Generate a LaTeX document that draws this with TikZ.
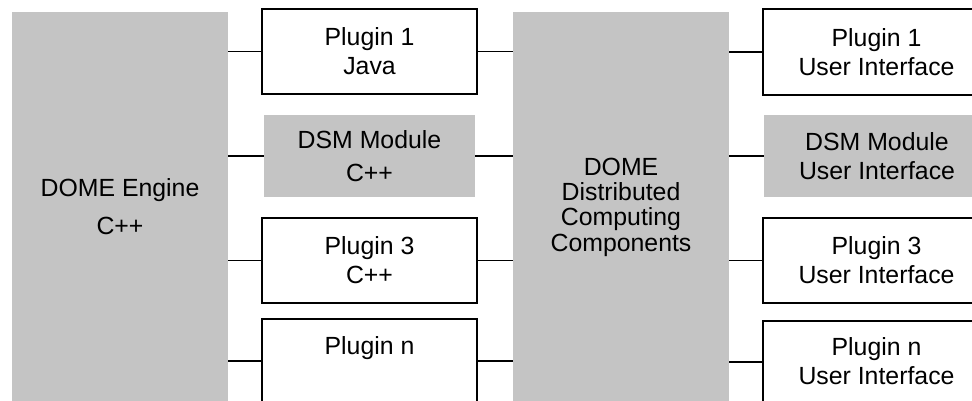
\documentclass[tikz,border=0pt]{standalone}
\usepackage{fontspec}
\setmainfont{Liberation Sans}
\definecolor{panelgray}{RGB}{196,196,196}
\tikzset{
  corebox/.style={fill=panelgray, minimum width=3.24cm, minimum height=5.85cm, align=center, inner sep=0pt},
  plugbox/.style={draw, line width=0.75pt, fill=white, minimum height=1.275cm, align=center, inner sep=0pt},
  modbox/.style={fill=panelgray, minimum height=1.23cm, align=center, inner sep=0pt},
  link/.style={line width=0.85pt}
}
\begin{document}
\begin{tikzpicture}[x=0.015cm, y=-0.015cm, font=\fontsize{10.6}{12.4}\selectfont]
\useasboundingbox (0,0) rectangle (972,400);
\clip (0,0) rectangle (972,400);

% Engine and distributed components
\node[corebox] (engine) at (120,207) {DOME Engine\\[3.9pt]C++};
\node[corebox, font=\fontsize{10.6}{10.8}\selectfont] (dist) at (621,207) {DOME\\Distributed\\Computing\\Components};

% Modules on the engine side
\node[plugbox, minimum width=3.225cm] (pjava) at (369.5,51.5) {Plugin 1\\Java};
\node[modbox, minimum width=3.165cm] (dsmcpp) at (369.5,156) {DSM Module\\[1.6pt]C++};
\node[plugbox, minimum width=3.225cm] (pcpp) at (369.5,260.5) {Plugin 3\\C++};
\node[plugbox, minimum width=3.225cm, minimum height=1.245cm] (pn) at (369.5,360.5) {Plugin n\\\mbox{}};

% User interfaces
\node[plugbox, minimum width=3.405cm, minimum height=1.29cm] (pjui) at (876.5,52) {Plugin 1\\User Interface};
\node[modbox, minimum width=3.39cm] (dsmui) at (877,156) {DSM Module\\User Interface};
\node[plugbox, minimum width=3.405cm] (pcui) at (876.5,260.5) {Plugin 3\\User Interface};
\node[plugbox, minimum width=3.405cm, minimum height=1.215cm] (pnui) at (876.5,361.5) {Plugin n\\User Interface};

% Links engine -> modules
\draw[link] (engine.east |- pjava.west) -- (pjava.west);
\draw[link] (engine.east |- dsmcpp.west) -- (dsmcpp.west);
\draw[link] (engine.east |- pcpp.west) -- (pcpp.west);
\draw[link] (engine.east |- pn.west) -- (pn.west);

% Links modules -> distributed components
\draw[link] (pjava.east) -- (dist.west |- pjava.east);
\draw[link] (dsmcpp.east) -- (dist.west |- dsmcpp.east);
\draw[link] (pcpp.east) -- (dist.west |- pcpp.east);
\draw[link] (pn.east) -- (dist.west |- pn.east);

% Links distributed components -> user interfaces
\draw[link] (dist.east |- pjui.west) -- (pjui.west);
\draw[link] (dist.east |- dsmui.west) -- (dsmui.west);
\draw[link] (dist.east |- pcui.west) -- (pcui.west);
\draw[link] (dist.east |- pnui.west) -- (pnui.west);
\end{tikzpicture}
\end{document}
